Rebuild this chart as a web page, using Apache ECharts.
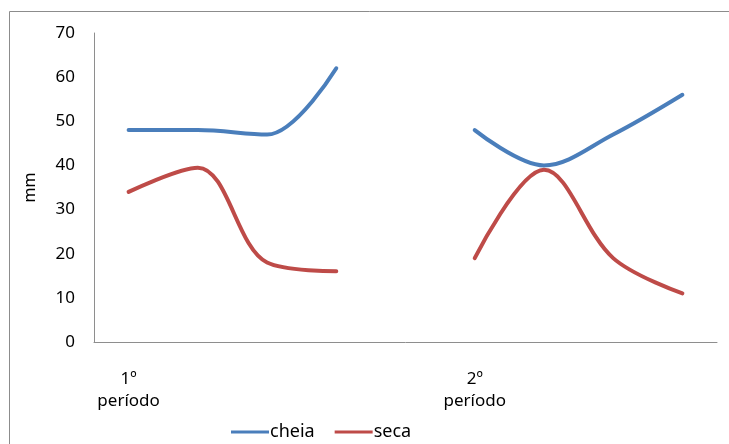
<!DOCTYPE html>
<html>
<head>
<meta charset="utf-8">
<script src="https://cdn.jsdelivr.net/npm/echarts@6/dist/echarts.min.js"></script>
<style>
  html, body { margin: 0; padding: 0; background: #fff; }
  #chart { width: 729px; height: 444px; }
</style>
</head>
<body>
<div id="chart"></div>
<script>
// categories: two periods, four readings each, with a gap between them
var categories = ['1º\nperíodo', '', '', '', '', '2º\nperíodo', '', '', ''];
var cheia = [48, 48, 47, 62, null, 48, 40, 47, 56];
var seca = [34, 39.5, 18, 16, null, 19, 39, 19, 11];
var yTicks = [0, 10, 20, 30, 40, 50, 60, 70];

var myChart = echarts.init(document.getElementById('chart'));
var font = 'Noto Sans';

var option = {
    animation: false,
    textStyle: { fontFamily: font },
    graphic: [{
        type: 'rect',
        shape: { x: 9.5, y: 11.5, width: 800, height: 500 },
        style: { fill: 'none', stroke: '#8c8c8c', lineWidth: 1 },
        silent: true
    }],
    grid: {
        left: 94,
        right: 12,
        top: 33,
        bottom: 102
    },
    legend: {
        bottom: -2,
        left: 226,
        icon: 'rect',
        itemWidth: 38,
        itemHeight: 3,
        itemGap: 20,
        textStyle: { fontFamily: font, fontSize: 18, color: '#000', padding: [0, 0, 0, -4] },
        data: ['cheia', 'seca']
    },
    xAxis: {
        type: 'category',
        data: categories,
        boundaryGap: true,
        axisLine: { lineStyle: { color: '#8e8e8e', width: 1 } },
        axisTick: { show: false },
        axisLabel: {
            interval: 0,
            margin: 26,
            color: '#000',
            fontFamily: font,
            fontSize: 17,
            lineHeight: 22
        }
    },
    yAxis: {
        type: 'value',
        min: yTicks[0],
        max: yTicks[yTicks.length - 1],
        interval: 10,
        name: 'mm',
        nameLocation: 'middle',
        nameGap: 56,
        nameRotate: 90,
        nameTextStyle: { color: '#000', fontFamily: font, fontSize: 16 },
        axisLine: { show: true, lineStyle: { color: '#8e8e8e', width: 1 } },
        axisTick: { show: false },
        splitLine: { show: false },
        axisLabel: { color: '#000', fontFamily: font, fontSize: 17, margin: 19 }
    },
    series: [
        {
            name: 'cheia',
            type: 'line',
            data: cheia,
            smooth: 0.35,
            connectNulls: false,
            showSymbol: false,
            itemStyle: { color: '#4a7ebb' },
            lineStyle: { color: '#4a7ebb', width: 4, cap: 'round' }
        },
        {
            name: 'seca',
            type: 'line',
            data: seca,
            smooth: 0.35,
            connectNulls: false,
            showSymbol: false,
            itemStyle: { color: '#be4b48' },
            lineStyle: { color: '#be4b48', width: 4, cap: 'round' }
        }
    ]
};

option && myChart.setOption(option);
window.addEventListener('resize', myChart.resize);
</script>
</body>
</html>
